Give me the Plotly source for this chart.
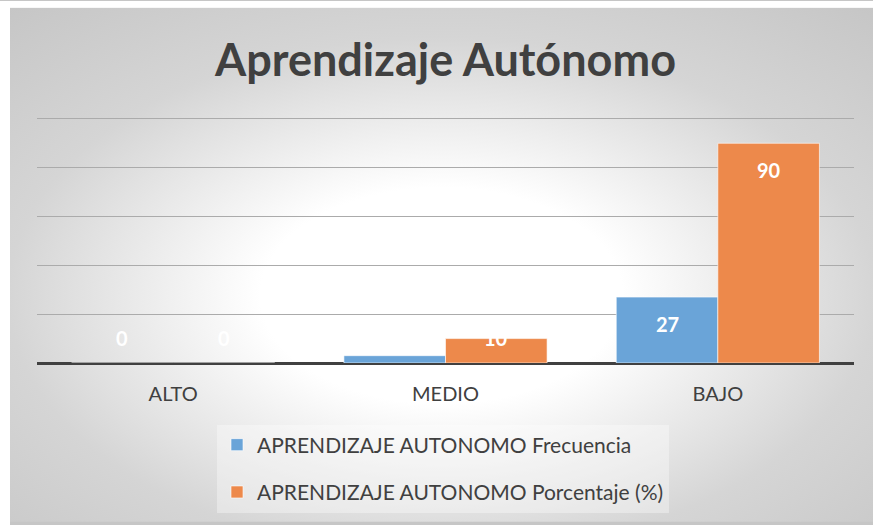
import base64
import plotly.graph_objects as go

categories = ["ALTO", "MEDIO", "BAJO"]
frecuencia = [0, 3, 27]
porcentaje = [0, 10, 90]
series_names = ["APRENDIZAJE AUTONOMO Frecuencia", "APRENDIZAJE AUTONOMO Porcentaje (%)"]
title_text = "Aprendizaje Autónomo"

W, H = 873, 525
FRAME_X, FRAME_Y = 10, 7      # chart frame starts here (white strip above / left)
YMAX = 102
PX_PER_UNIT = 2.46
BASE_Y = 365
ML = 37
MR = W - 854
MB = H - BASE_Y
MT = BASE_Y - round(YMAX * PX_PER_UNIT)
BARGAP = 0.254
FONT = "Lato"
TXT = "#404040"
BLUE = "rgb(106,164,216)"
ORANGE = "rgb(237,137,75)"
EDGE = "#c6c6c6"

plot_w = W - ML - MR
plot_h = H - MT - MB

PADR = 40
SW, SH = W + PADR, H + PADR
svg = (
    f'<svg xmlns="http://www.w3.org/2000/svg" width="{SW}" height="{SH}" viewBox="0 0 {SW} {SH}" preserveAspectRatio="none">'
    '<defs><radialGradient id="g" cx="0.5" cy="0.56" r="0.75" gradientUnits="objectBoundingBox">'
    '<stop offset="0" stop-color="#ffffff"/>'
    '<stop offset="0.28" stop-color="#ffffff"/>'
    '<stop offset="0.67" stop-color="#d5d5d5"/>'
    f'<stop offset="1" stop-color="{EDGE}"/>'
    '</radialGradient></defs>'
    f'<rect x="0" y="0" width="{SW}" height="{SH}" fill="{EDGE}"/>'
    f'<rect x="{FRAME_X}" y="{FRAME_Y}" width="{W - FRAME_X}" height="{H - FRAME_Y}" fill="url(#g)"/>'
    f'<rect x="0" y="0" width="{SW}" height="{FRAME_Y}" fill="#ffffff"/>'
    f'<rect x="0" y="0" width="{FRAME_X}" height="{SH}" fill="#ffffff"/>'
    '</svg>'
)
src = "data:image/svg+xml;base64," + base64.b64encode(svg.encode()).decode()

def px_to_paper_x(px):
    return (px - ML) / plot_w

def px_to_paper_y(py):
    return (H - MB - py) / plot_h

fx0, fx1 = px_to_paper_x(0), px_to_paper_x(SW)
fy0, fy1 = px_to_paper_y(0), px_to_paper_y(SH)

fig = go.Figure()
fig.add_trace(go.Bar(x=categories, y=frecuencia, name=series_names[0],
                     marker=dict(color=BLUE, line=dict(color="rgba(255,255,255,0.6)", width=1)),
                     legendgroup="a"))
fig.add_trace(go.Bar(x=categories, y=porcentaje, name=series_names[1],
                     marker=dict(color=ORANGE, line=dict(color="rgba(255,255,255,0.6)", width=1)),
                     legendgroup="b"))

bw = (1 - BARGAP) / 2
annotations = []
for vals, off in ((frecuencia, -bw / 2), (porcentaje, bw / 2)):
    for i, v in enumerate(vals):
        if v > 20:
            y, ys = v, -27
        else:
            y, ys = 0, 25
        annotations.append(dict(x=i + off, y=y, xref="x", yref="y", text=str(v),
                                showarrow=False, yshift=ys,
                                font=dict(family=FONT, size=20, color="white", weight="bold")))

fig.update_layout(
    width=W, height=H,
    margin=dict(l=ML, r=MR, t=MT, b=MB, pad=0),
    paper_bgcolor=EDGE,
    plot_bgcolor="rgba(0,0,0,0)",
    barmode="group", bargap=BARGAP, bargroupgap=0,
    title=dict(text=title_text, x=0.5, xref="paper", xanchor="center",
               y=1 - 60 / H, yref="container", yanchor="middle",
               font=dict(family=FONT, size=45, color=TXT, weight="bold")),
    images=[dict(source=src, xref="paper", yref="paper", x=fx0, y=fy0,
                 sizex=fx1 - fx0, sizey=fy0 - fy1, sizing="stretch",
                 xanchor="left", yanchor="top", layer="below")],
    xaxis=dict(showgrid=False, showline=False, ticks="", ticklabelstandoff=17,
               tickfont=dict(family=FONT, size=20, color=TXT)),
    yaxis=dict(range=[0, YMAX], tickvals=[20, 40, 60, 80, 100], showgrid=True,
               gridcolor="#ababab", gridwidth=1,
               showticklabels=False, zeroline=True, zerolinecolor="#404040", zerolinewidth=3),
    legend=dict(orientation="v", x=px_to_paper_x(217), xanchor="left",
                y=px_to_paper_y(427), yanchor="top",
                bgcolor="rgba(255,255,255,0.35)", tracegroupgap=17,
                font=dict(family=FONT, size=21, color=TXT)),
    annotations=annotations,
    showlegend=True,
)
fig.write_html(
    "out.html",
    config={"displayModeBar": False},
    post_script=(
        "document.body.style.margin='0';"
        f"document.body.style.background='{EDGE}';"
        f"document.documentElement.style.background='{EDGE}';"
        "document.documentElement.style.overflow='hidden';"
        "document.body.style.overflow='hidden';"
    ),
)
